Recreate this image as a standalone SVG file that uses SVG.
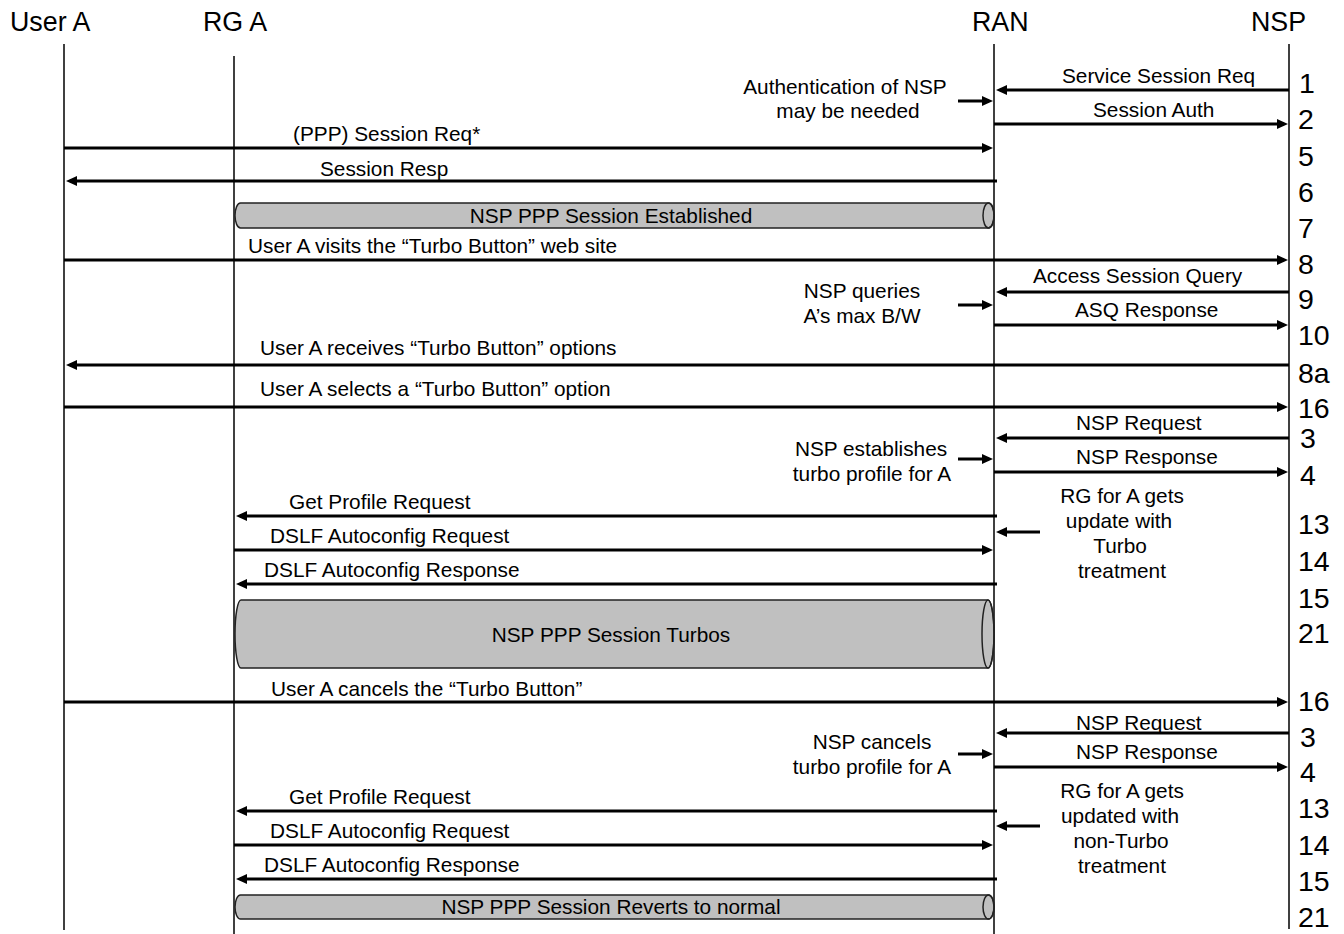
<svg xmlns="http://www.w3.org/2000/svg" width="1344" height="934" viewBox="0 0 1344 934">
  <style>
    text { font-family: "Liberation Sans", Arial, sans-serif; fill: #000; }
    .hdr { font-size: 26.8px; }
    .lbl { font-size: 20.8px; }
    .mid { text-anchor: middle; }
    .num { font-size: 28.5px; }
    .life { stroke: #000; stroke-width: 1.5; fill: none; }
    .msg { stroke: #000; stroke-width: 3; fill: none; marker-end: url(#head); }
    .pipe { fill: #c0c0c0; stroke: #222; stroke-width: 1.5; }
    .cap { fill: none; stroke: #222; stroke-width: 1.5; }
  </style>
  <defs>
    <marker id="head" markerUnits="userSpaceOnUse" markerWidth="11" markerHeight="10" refX="7" refY="5" orient="auto">
      <path d="M0,0 L11,5 L0,10 Z" fill="#000"/>
    </marker>
  </defs>
  <rect width="1344" height="934" fill="#fff"/>

  <!-- participants -->
  <g id="user-a">
    <text class="hdr" x="10" y="31">User A</text>
    <line class="life" x1="64" y1="44" x2="64" y2="930"/>
  </g>
  <g id="rg-a">
    <text class="hdr" x="203" y="31">RG A</text>
    <line class="life" x1="234" y1="56" x2="234" y2="934"/>
  </g>
  <g id="ran">
    <text class="hdr" x="972" y="31">RAN</text>
    <line class="life" x1="994" y1="44" x2="994" y2="934"/>
  </g>
  <g id="nsp">
    <text class="hdr" x="1251" y="31">NSP</text>
    <line class="life" x1="1289" y1="44" x2="1289" y2="929"/>
  </g>

  <!-- session pipes -->
  <g id="pipe-established">
    <path class="pipe" d="M240.5,203 H988.5 A5.5,12.5 0 0 1 988.5,228 H240.5 A5.5,12.5 0 0 1 240.5,203 Z"/>
    <ellipse class="cap" cx="988.5" cy="215.5" rx="5.5" ry="12.5"/>
    <text class="lbl mid" x="611" y="223">NSP PPP Session Established</text>
  </g>
  <g id="pipe-turbos">
    <path class="pipe" d="M241,600 H988 A6,34 0 0 1 988,668 H241 A6,34 0 0 1 241,600 Z"/>
    <ellipse class="cap" cx="988" cy="634" rx="6" ry="34"/>
    <text class="lbl mid" x="611" y="642">NSP PPP Session Turbos</text>
  </g>
  <g id="pipe-normal">
    <path class="pipe" d="M240.5,895 H988.5 A5.5,12 0 0 1 988.5,919 H240.5 A5.5,12 0 0 1 240.5,895 Z"/>
    <ellipse class="cap" cx="988.5" cy="907" rx="5.5" ry="12"/>
    <text class="lbl mid" x="611" y="914">NSP PPP Session Reverts to normal</text>
  </g>

  <!-- side notes -->
  <g id="note-auth">
    <text class="lbl mid" x="845" y="94">Authentication of NSP</text>
    <text class="lbl mid" x="848" y="118">may be needed</text>
  </g>
  <g id="note-query">
    <text class="lbl mid" x="862" y="298">NSP queries</text>
    <text class="lbl mid" x="862" y="323">A’s max B/W</text>
  </g>
  <g id="note-establish">
    <text class="lbl mid" x="871" y="456">NSP establishes</text>
    <text class="lbl mid" x="872" y="481">turbo profile for A</text>
  </g>
  <g id="note-rg-turbo">
    <text class="lbl mid" x="1122" y="503">RG for A gets</text>
    <text class="lbl mid" x="1119" y="528">update with</text>
    <text class="lbl mid" x="1120" y="553">Turbo</text>
    <text class="lbl mid" x="1122" y="578">treatment</text>
  </g>
  <g id="note-cancel">
    <text class="lbl mid" x="872" y="749">NSP cancels</text>
    <text class="lbl mid" x="872" y="774">turbo profile for A</text>
  </g>
  <g id="note-rg-normal">
    <text class="lbl mid" x="1122" y="798">RG for A gets</text>
    <text class="lbl mid" x="1120" y="823">updated with</text>
    <text class="lbl mid" x="1121" y="848">non-Turbo</text>
    <text class="lbl mid" x="1122" y="873">treatment</text>
  </g>

  <!-- messages -->
  <g id="connectors">
    <line class="msg" x1="1289" y1="90" x2="1000" y2="90"/>
    <line class="msg" x1="994" y1="124" x2="1284" y2="124"/>
    <line class="msg" x1="958" y1="101" x2="989" y2="101"/>
    <line class="msg" x1="64" y1="148" x2="989" y2="148"/>
    <line class="msg" x1="997" y1="181" x2="70" y2="181"/>
    <line class="msg" x1="64" y1="260" x2="1284" y2="260"/>
    <line class="msg" x1="1289" y1="292" x2="1000" y2="292"/>
    <line class="msg" x1="994" y1="325" x2="1284" y2="325"/>
    <line class="msg" x1="958" y1="305" x2="989" y2="305"/>
    <line class="msg" x1="1289" y1="365" x2="70" y2="365"/>
    <line class="msg" x1="64" y1="407" x2="1284" y2="407"/>
    <line class="msg" x1="1289" y1="438" x2="1000" y2="438"/>
    <line class="msg" x1="994" y1="472" x2="1284" y2="472"/>
    <line class="msg" x1="958" y1="459" x2="989" y2="459"/>
    <line class="msg" x1="997" y1="516" x2="240" y2="516"/>
    <line class="msg" x1="234" y1="550" x2="989" y2="550"/>
    <line class="msg" x1="997" y1="584" x2="240" y2="584"/>
    <line class="msg" x1="1040" y1="532" x2="1000" y2="532"/>
    <line class="msg" x1="64" y1="702" x2="1284" y2="702"/>
    <line class="msg" x1="1289" y1="733" x2="1000" y2="733"/>
    <line class="msg" x1="994" y1="767" x2="1284" y2="767"/>
    <line class="msg" x1="958" y1="754" x2="989" y2="754"/>
    <line class="msg" x1="997" y1="811" x2="240" y2="811"/>
    <line class="msg" x1="234" y1="845" x2="989" y2="845"/>
    <line class="msg" x1="997" y1="879" x2="240" y2="879"/>
    <line class="msg" x1="1040" y1="826" x2="1000" y2="826"/>
  </g>

  <!-- message labels -->
  <g id="message-labels">
    <text class="lbl" x="1062" y="83">Service Session Req</text>
    <text class="lbl" x="1093" y="117">Session Auth</text>
    <text class="lbl" x="293" y="141">(PPP) Session Req*</text>
    <text class="lbl" x="320" y="176">Session Resp</text>
    <text class="lbl" x="248" y="253">User A visits the “Turbo Button” web site</text>
    <text class="lbl" x="1033" y="283">Access Session Query</text>
    <text class="lbl" x="1075" y="317">ASQ Response</text>
    <text class="lbl" x="260" y="355">User A receives “Turbo Button” options</text>
    <text class="lbl" x="260" y="396">User A selects a “Turbo Button” option</text>
    <text class="lbl" x="1076" y="430">NSP Request</text>
    <text class="lbl" x="1076" y="464">NSP Response</text>
    <text class="lbl" x="289" y="509">Get Profile Request</text>
    <text class="lbl" x="270" y="543">DSLF Autoconfig Request</text>
    <text class="lbl" x="264" y="577">DSLF Autoconfig Response</text>
    <text class="lbl" x="271" y="696">User A cancels the “Turbo Button”</text>
    <text class="lbl" x="1076" y="730">NSP Request</text>
    <text class="lbl" x="1076" y="759">NSP Response</text>
    <text class="lbl" x="289" y="804">Get Profile Request</text>
    <text class="lbl" x="270" y="838">DSLF Autoconfig Request</text>
    <text class="lbl" x="264" y="872">DSLF Autoconfig Response</text>
  </g>

  <!-- step numbers -->
  <g id="step-numbers">
    <text class="num" x="1299" y="93">1</text>
    <text class="num" x="1298" y="129">2</text>
    <text class="num" x="1298" y="166">5</text>
    <text class="num" x="1298" y="202">6</text>
    <text class="num" x="1298" y="238">7</text>
    <text class="num" x="1298" y="274">8</text>
    <text class="num" x="1298" y="309">9</text>
    <text class="num" x="1298" y="345">10</text>
    <text class="num" x="1298" y="383">8a</text>
    <text class="num" x="1298" y="418">16</text>
    <text class="num" x="1300" y="448">3</text>
    <text class="num" x="1300" y="485">4</text>
    <text class="num" x="1298" y="534">13</text>
    <text class="num" x="1298" y="571">14</text>
    <text class="num" x="1298" y="608">15</text>
    <text class="num" x="1298" y="643">21</text>
    <text class="num" x="1298" y="711">16</text>
    <text class="num" x="1300" y="747">3</text>
    <text class="num" x="1300" y="782">4</text>
    <text class="num" x="1298" y="818">13</text>
    <text class="num" x="1298" y="855">14</text>
    <text class="num" x="1298" y="891">15</text>
    <text class="num" x="1298" y="927">21</text>
  </g>
</svg>
